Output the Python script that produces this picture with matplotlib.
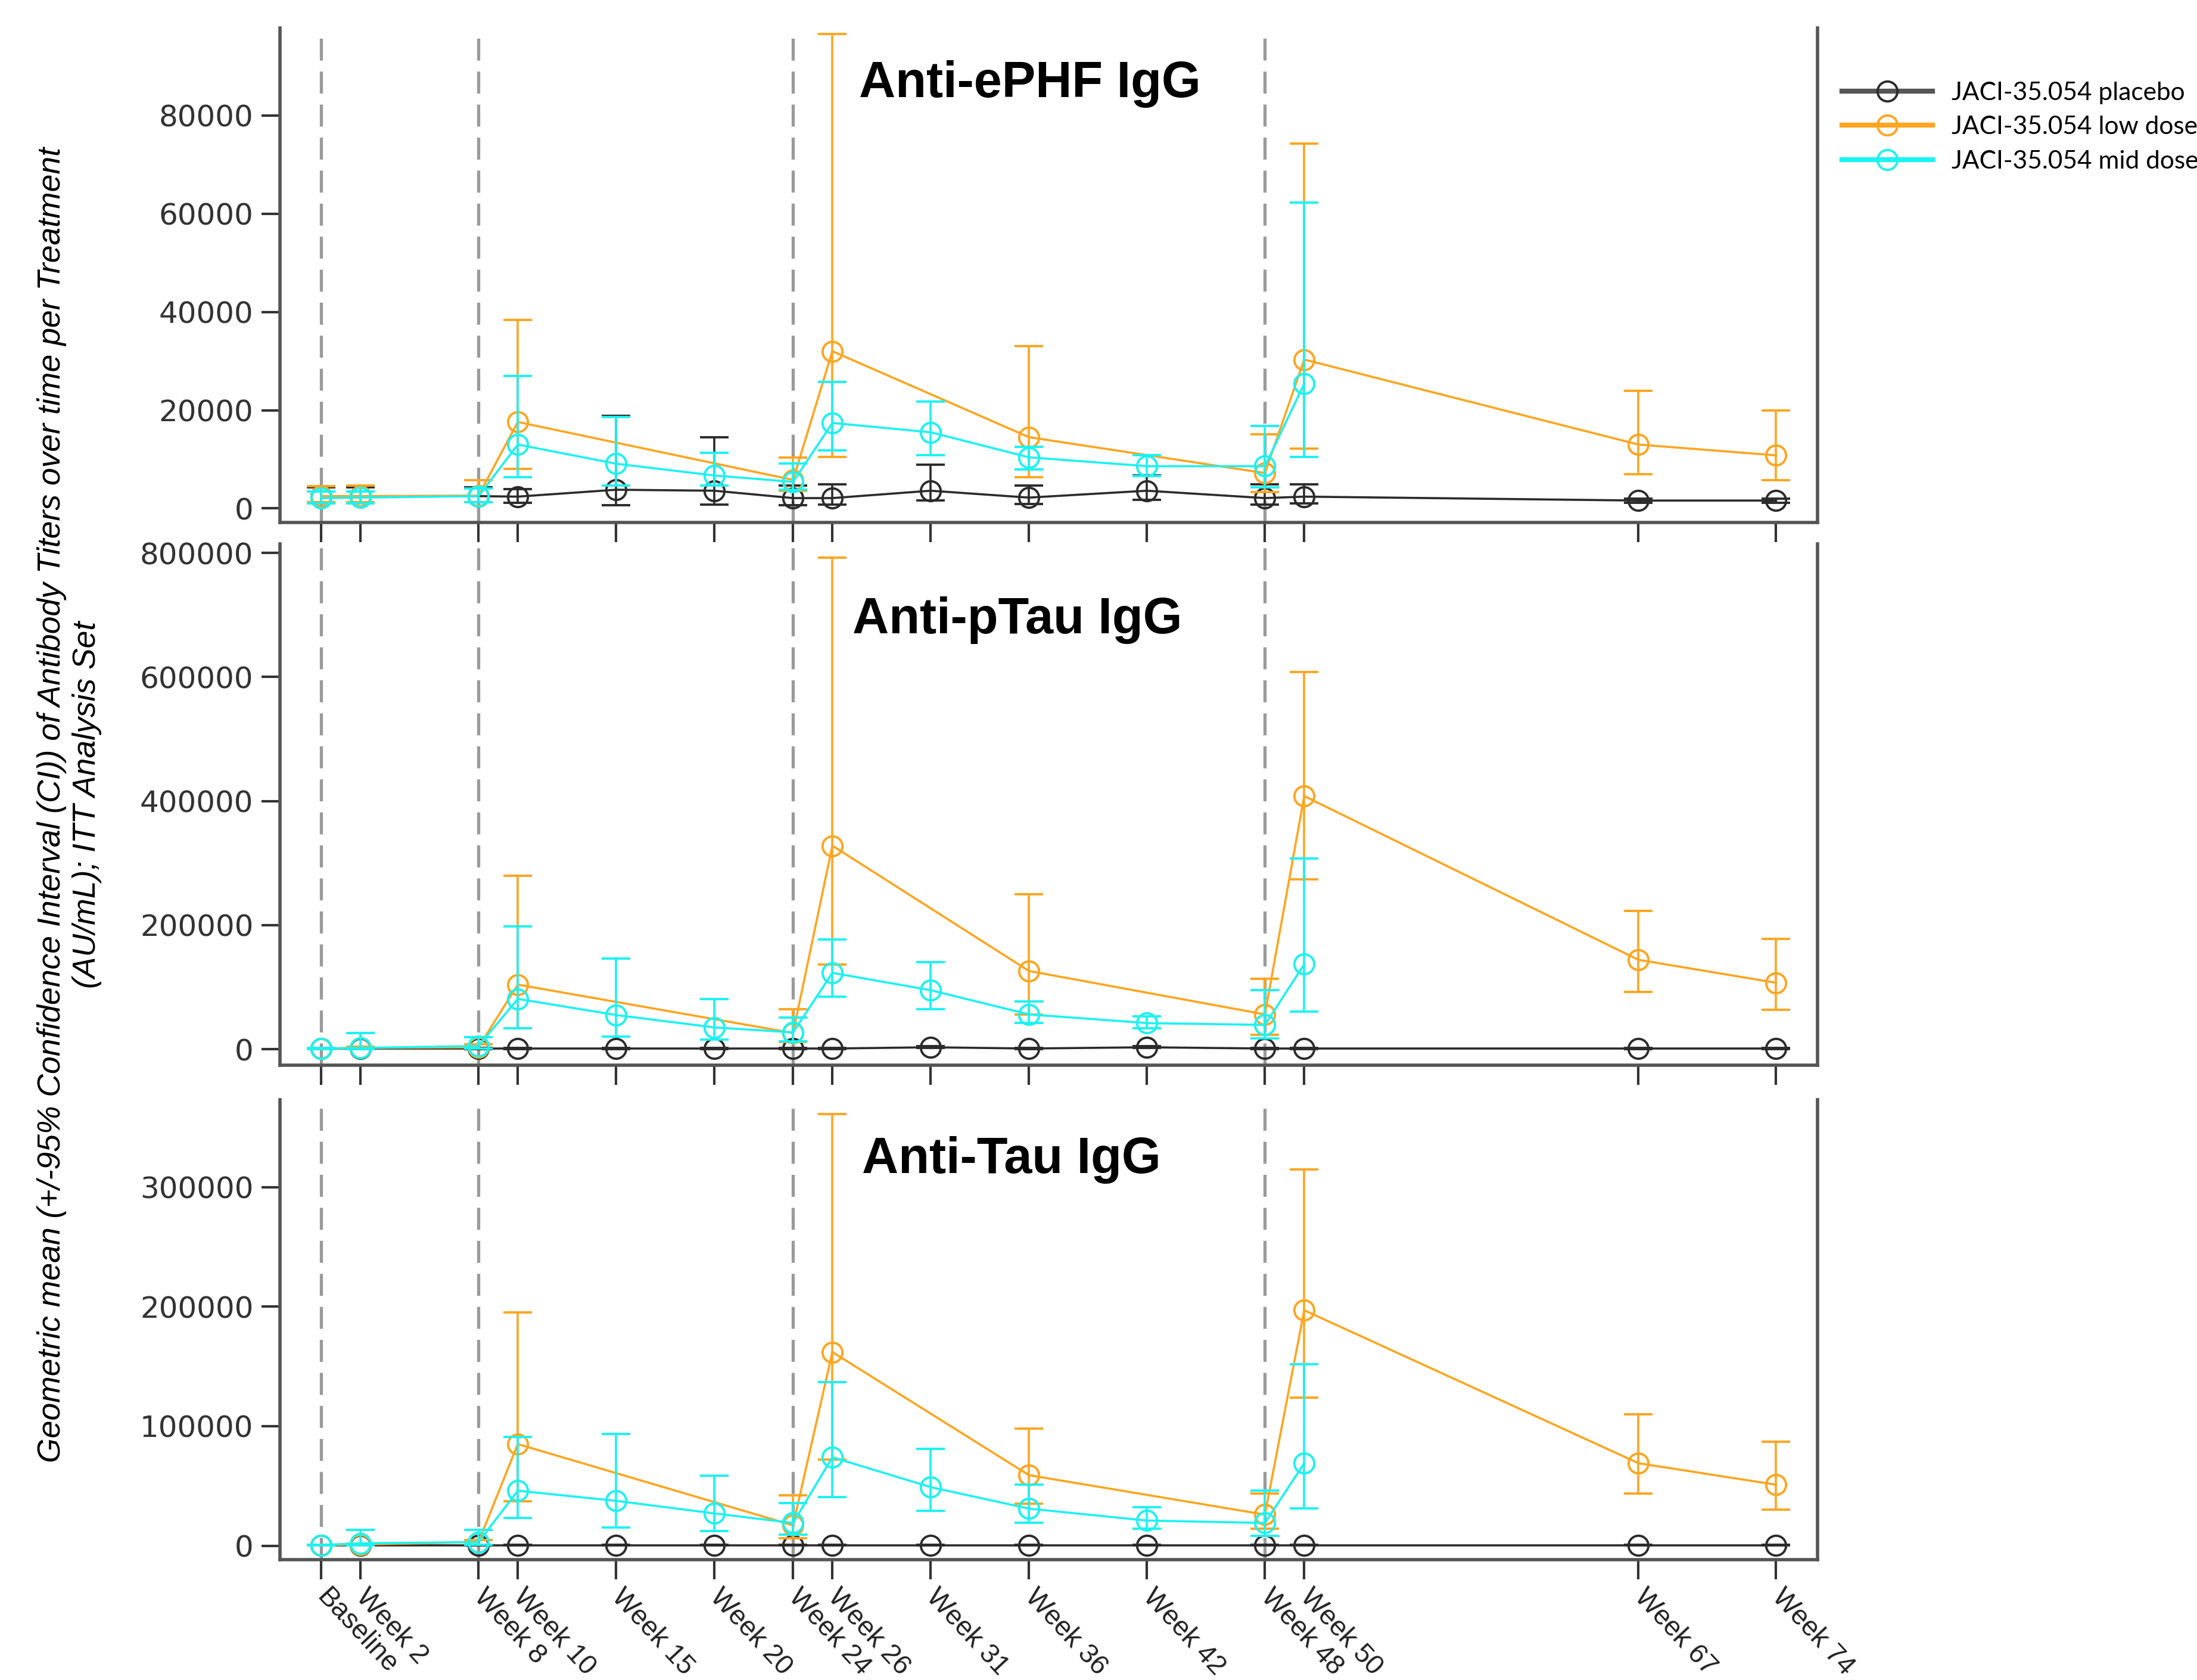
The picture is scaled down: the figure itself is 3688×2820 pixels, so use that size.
import numpy as np
import matplotlib
matplotlib.use("Agg")
import matplotlib.pyplot as plt
from matplotlib.lines import Line2D

nan = np.nan

# Data (values in thousands of AU/mL)
weeks = [0, 2, 8, 10, 15, 20, 24, 26, 31, 36, 42, 48, 50, 67, 74]
week_labels = ['Baseline', 'Week 2', 'Week 8', 'Week 10', 'Week 15', 'Week 20', 'Week 24',
               'Week 26', 'Week 31', 'Week 36', 'Week 42', 'Week 48', 'Week 50', 'Week 67', 'Week 74']
groups = ['JACI-35.054 placebo', 'JACI-35.054 low dose', 'JACI-35.054 mid dose']
panel_titles = ['Anti-ePHF IgG', 'Anti-pTau IgG', 'Anti-Tau IgG']

# Anti-ePHF IgG
ephf_placebo = [2.5, 2.5, 2.5, 2.4, 3.8, 3.6, 2.1, 2.1, 3.6, 2.2, 3.6, 2.1, 2.4, 1.6, 1.6]
ephf_placebo_lo = [1.3, 1.3, 1.3, 1.2, 0.7, 0.8, 0.7, 0.8, 1.6, 0.9, 1.8, 0.8, 1.0, 1.2, 1.2]
ephf_placebo_hi = [4.3, 4.3, 4.3, 3.9, 18.9, 14.5, 4.6, 4.9, 8.9, 4.6, 6.7, 4.9, 4.9, 2.0, 2.0]
ephf_low = [2.5, 2.5, 2.6, 17.6, nan, nan, 5.8, 32.0, nan, 14.5, nan, 7.2, 30.3, 13.0, 10.8]
ephf_low_lo = [1.3, 1.3, 1.3, 8.0, nan, nan, 3.6, 10.5, nan, 6.3, nan, 3.3, 12.2, 7.0, 5.7]
ephf_low_hi = [4.5, 4.6, 5.8, 38.4, nan, nan, 10.4, 96.6, nan, 33.1, nan, 15.1, 74.3, 23.9, 20.0]
ephf_mid = [2.1, 2.2, 2.5, 13.0, 9.1, 6.7, 5.4, 17.4, 15.5, 10.4, 8.6, 8.6, 25.4, nan, nan]
ephf_mid_lo = [1.0, 1.0, 1.3, 6.3, 4.6, 4.6, 3.8, 11.8, 10.9, 7.9, 6.6, 4.3, 10.5, nan, nan]
ephf_mid_hi = [3.5, 3.5, 4.0, 27.0, 18.6, 11.3, 9.1, 25.8, 21.8, 12.5, 10.9, 16.8, 62.3, nan, nan]

# Anti-pTau IgG
ptau_placebo = [1, 1, 1, 1, 1, 1, 1, 1, 3, 1, 3, 1, 1, 1, 1]
ptau_placebo_lo = [0.5, 0.5, 0.5, 0.5, 0.5, 0.5, 0.5, 0.5, 1.5, 0.5, 1.5, 0.5, 0.5, 0.5, 0.5]
ptau_placebo_hi = [2, 2, 2, 2, 2, 2, 2, 2, 5, 2, 5, 2, 2, 2, 2]
ptau_low = [1, 2, 3, 104, nan, nan, 26, 328, nan, 126, nan, 56, 408, 144, 107]
ptau_low_lo = [0.5, 1, 1, 34, nan, nan, 12, 136, nan, 56, nan, 23, 274, 92, 63]
ptau_low_hi = [2, 4, 8, 280, nan, nan, 64, 792, nan, 250, nan, 113, 608, 223, 178]
ptau_mid = [1, 2, 5, 81, 55, 35, 27, 123, 95, 56, 42, 39, 137, nan, nan]
ptau_mid_lo = [0.5, 0.5, 1, 34, 20, 15, 13, 85, 64, 42, 34, 17, 61, nan, nan]
ptau_mid_hi = [2, 26, 19, 198, 146, 81, 51, 177, 140, 77, 53, 95, 307, nan, nan]

# Anti-Tau IgG
tau_placebo = [0.5] * 15
tau_placebo_lo = [0.2] * 15
tau_placebo_hi = [1.0] * 15
tau_low = [0.5, 1, 3, 85, nan, nan, 17, 162, nan, 59, nan, 26, 197, 69, 51]
tau_low_lo = [0.2, 0.5, 1, 37, nan, nan, 6, 72, nan, 35, nan, 14, 124, 43.5, 30]
tau_low_hi = [1, 2, 5, 195, nan, nan, 42, 361, nan, 98, nan, 43.5, 315, 110, 87]
tau_mid = [0.5, 2, 3, 46, 37.5, 27, 19, 74, 49, 31, 21, 19, 69, nan, nan]
tau_mid_lo = [0.2, 0.5, 1, 23, 15, 12, 9, 40.5, 29, 19, 14, 8, 31, nan, nan]
tau_mid_hi = [1, 13, 13, 91, 93.5, 58.5, 35.5, 137, 81, 51, 32, 46, 152, nan, nan]

dose_weeks = [0, 8, 24, 48]

panels = [
    [(ephf_placebo, ephf_placebo_lo, ephf_placebo_hi),
     (ephf_low, ephf_low_lo, ephf_low_hi),
     (ephf_mid, ephf_mid_lo, ephf_mid_hi)],
    [(ptau_placebo, ptau_placebo_lo, ptau_placebo_hi),
     (ptau_low, ptau_low_lo, ptau_low_hi),
     (ptau_mid, ptau_mid_lo, ptau_mid_hi)],
    [(tau_placebo, tau_placebo_lo, tau_placebo_hi),
     (tau_low, tau_low_lo, tau_low_hi),
     (tau_mid, tau_mid_lo, tau_mid_hi)],
]
yticks = [[0, 20000, 40000, 60000, 80000],
          [0, 200000, 400000, 600000, 800000],
          [0, 100000, 200000, 300000]]
ylims = [(-2900, 97800), (-25500, 815000), (-11600, 373000)]

colors = ['#2b2b2b', '#FFA51F', '#1CF2F2']

fig = plt.figure(figsize=(36.88, 28.2), dpi=100)
boxes = [(0.1274, 0.6889, 0.6998, 0.2944),
         (0.1274, 0.3661, 0.6998, 0.3103),
         (0.1274, 0.0717, 0.6998, 0.2736)]
title_pos = [(0.4688, 0.950), (0.463, 0.631), (0.4605, 0.3094)]

for p, box in enumerate(boxes):
    ax = fig.add_axes(box)
    for v in dose_weeks:
        ax.axvline(v, color='#9a9a9a', lw=3.8, ls=(0, (7, 3.5)), zorder=1)
    for g, (mean, lo, hi) in enumerate(panels[p]):
        x = np.array(weeks, dtype=float)
        m = np.array(mean, dtype=float) * 1000
        l = np.array(lo, dtype=float) * 1000
        h = np.array(hi, dtype=float) * 1000
        ok = ~np.isnan(m)
        ax.errorbar(x[ok], m[ok], yerr=[m[ok] - l[ok], h[ok] - m[ok]], fmt='-o',
                    color=colors[g], mfc='none', mec=colors[g], ms=24, mew=2.8,
                    lw=2.6, elinewidth=2.6, capsize=17, capthick=2.8, zorder=2 + g)
    ax.set_xlim(-2.1, 76.1)
    ax.set_ylim(*ylims[p])
    ax.set_yticks(yticks[p])
    ax.set_yticklabels([str(t) for t in yticks[p]], fontsize=36, color='#333333',
                       family='DejaVu Sans')
    ax.set_xticks(weeks)
    if p == 2:
        ax.set_xticklabels(week_labels, rotation=-47, ha='left', va='center',
                           rotation_mode='anchor', fontsize=33, color='#222222',
                           family='Liberation Sans')
    else:
        ax.set_xticklabels([])
    ax.tick_params(axis='y', length=22, width=3, color='#333333', pad=10)
    ax.tick_params(axis='x', length=24, width=3, color='#333333', pad=16)
    ax.spines['top'].set_visible(False)
    for s in ['left', 'right', 'bottom']:
        ax.spines[s].set_color('#555555')
        ax.spines[s].set_linewidth(4)
    fig.text(title_pos[p][0], title_pos[p][1], panel_titles[p], ha='center', va='center',
             fontsize=61, fontweight='bold', family='Liberation Sans')

fig.text(0.0316, 0.521,
         'Geometric mean (+/-95% Confidence Interval (CI)) of Antibody Titers over time per Treatment\n'
         '(AU/mL); ITT Analysis Set',
         rotation=90, ha='center', va='center', multialignment='center', linespacing=1.25,
         fontsize=38.5, style='italic', family='Liberation Sans')

handles = [Line2D([], [], color=c, marker='o', mfc='none', mec=c, ms=24, mew=2.8, lw=6)
           for c in colors]
handles[0].set_color('#555555')
handles[0].set_markeredgecolor('#2b2b2b')
fig.legend(handles, groups, loc='upper left', bbox_to_anchor=(0.828, 0.965),
           frameon=False, handlelength=3.6, handletextpad=0.75,
           labelspacing=0.46, prop={'family': 'Lato', 'size': 30.5})

fig.savefig('out.png', dpi=100)
